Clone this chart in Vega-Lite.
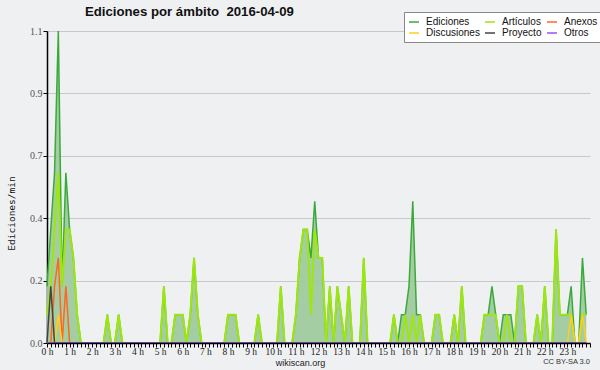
{
"$schema": "https://vega.github.io/schema/vega-lite/v6.json",
"width": 543, "height": 312,
"autosize": "none",
"padding": {"left": 47, "top": 31, "right": 10, "bottom": 27},
"background": "#eff0f2",
"view": {"stroke": null},
"title": {"text": "Ediciones por ámbito\u00a0 2016-04-09", "anchor": "start", "frame": "group", "dx": 38, "dy": 17, "offset": 9, "font": "Liberation Sans", "fontSize": 13.2, "fontWeight": "bold", "color": "#111"},
"datasets": {"serie": [
{"m":0,"Ediciones":0.2,"Artículos":0.1,"Anexos":0,"Discusiones":0,"Proyecto":0,"Otros":0},
{"m":10,"Ediciones":0.4,"Artículos":0.2,"Anexos":0,"Discusiones":0,"Proyecto":0.2,"Otros":0},
{"m":20,"Ediciones":0.6,"Artículos":0.4,"Anexos":0.2,"Discusiones":0,"Proyecto":0,"Otros":0},
{"m":30,"Ediciones":1.1,"Artículos":0.6,"Anexos":0.3,"Discusiones":0.1,"Proyecto":0,"Otros":0},
{"m":40,"Ediciones":0.2,"Artículos":0.2,"Anexos":0,"Discusiones":0,"Proyecto":0,"Otros":0},
{"m":50,"Ediciones":0.6,"Artículos":0.4,"Anexos":0.2,"Discusiones":0,"Proyecto":0,"Otros":0},
{"m":60,"Ediciones":0.4,"Artículos":0.4,"Anexos":0,"Discusiones":0,"Proyecto":0,"Otros":0},
{"m":70,"Ediciones":0.3,"Artículos":0.3,"Anexos":0,"Discusiones":0,"Proyecto":0,"Otros":0},
{"m":80,"Ediciones":0.1,"Artículos":0.1,"Anexos":0,"Discusiones":0,"Proyecto":0,"Otros":0},
{"m":90,"Ediciones":0,"Artículos":0,"Anexos":0,"Discusiones":0,"Proyecto":0,"Otros":0},
{"m":100,"Ediciones":0,"Artículos":0,"Anexos":0,"Discusiones":0,"Proyecto":0,"Otros":0},
{"m":110,"Ediciones":0,"Artículos":0,"Anexos":0,"Discusiones":0,"Proyecto":0,"Otros":0},
{"m":120,"Ediciones":0,"Artículos":0,"Anexos":0,"Discusiones":0,"Proyecto":0,"Otros":0},
{"m":130,"Ediciones":0,"Artículos":0,"Anexos":0,"Discusiones":0,"Proyecto":0,"Otros":0},
{"m":140,"Ediciones":0,"Artículos":0,"Anexos":0,"Discusiones":0,"Proyecto":0,"Otros":0},
{"m":150,"Ediciones":0,"Artículos":0,"Anexos":0,"Discusiones":0,"Proyecto":0,"Otros":0},
{"m":160,"Ediciones":0.1,"Artículos":0.1,"Anexos":0,"Discusiones":0,"Proyecto":0,"Otros":0},
{"m":170,"Ediciones":0,"Artículos":0,"Anexos":0,"Discusiones":0,"Proyecto":0,"Otros":0},
{"m":180,"Ediciones":0,"Artículos":0,"Anexos":0,"Discusiones":0,"Proyecto":0,"Otros":0},
{"m":190,"Ediciones":0.1,"Artículos":0.1,"Anexos":0,"Discusiones":0,"Proyecto":0,"Otros":0},
{"m":200,"Ediciones":0,"Artículos":0,"Anexos":0,"Discusiones":0,"Proyecto":0,"Otros":0},
{"m":210,"Ediciones":0,"Artículos":0,"Anexos":0,"Discusiones":0,"Proyecto":0,"Otros":0},
{"m":220,"Ediciones":0,"Artículos":0,"Anexos":0,"Discusiones":0,"Proyecto":0,"Otros":0},
{"m":230,"Ediciones":0,"Artículos":0,"Anexos":0,"Discusiones":0,"Proyecto":0,"Otros":0},
{"m":240,"Ediciones":0,"Artículos":0,"Anexos":0,"Discusiones":0,"Proyecto":0,"Otros":0},
{"m":250,"Ediciones":0,"Artículos":0,"Anexos":0,"Discusiones":0,"Proyecto":0,"Otros":0},
{"m":260,"Ediciones":0,"Artículos":0,"Anexos":0,"Discusiones":0,"Proyecto":0,"Otros":0},
{"m":270,"Ediciones":0,"Artículos":0,"Anexos":0,"Discusiones":0,"Proyecto":0,"Otros":0},
{"m":280,"Ediciones":0,"Artículos":0,"Anexos":0,"Discusiones":0,"Proyecto":0,"Otros":0},
{"m":290,"Ediciones":0,"Artículos":0,"Anexos":0,"Discusiones":0,"Proyecto":0,"Otros":0},
{"m":300,"Ediciones":0,"Artículos":0,"Anexos":0,"Discusiones":0,"Proyecto":0,"Otros":0},
{"m":310,"Ediciones":0.2,"Artículos":0.2,"Anexos":0,"Discusiones":0,"Proyecto":0,"Otros":0},
{"m":320,"Ediciones":0,"Artículos":0,"Anexos":0,"Discusiones":0,"Proyecto":0,"Otros":0},
{"m":330,"Ediciones":0,"Artículos":0,"Anexos":0,"Discusiones":0,"Proyecto":0,"Otros":0},
{"m":340,"Ediciones":0.1,"Artículos":0.1,"Anexos":0,"Discusiones":0,"Proyecto":0,"Otros":0},
{"m":350,"Ediciones":0.1,"Artículos":0.1,"Anexos":0,"Discusiones":0,"Proyecto":0,"Otros":0},
{"m":360,"Ediciones":0.1,"Artículos":0.1,"Anexos":0,"Discusiones":0,"Proyecto":0,"Otros":0},
{"m":370,"Ediciones":0,"Artículos":0,"Anexos":0,"Discusiones":0,"Proyecto":0,"Otros":0},
{"m":380,"Ediciones":0.1,"Artículos":0.1,"Anexos":0,"Discusiones":0,"Proyecto":0,"Otros":0},
{"m":390,"Ediciones":0.3,"Artículos":0.3,"Anexos":0,"Discusiones":0,"Proyecto":0,"Otros":0},
{"m":400,"Ediciones":0.1,"Artículos":0.1,"Anexos":0,"Discusiones":0,"Proyecto":0,"Otros":0},
{"m":410,"Ediciones":0,"Artículos":0,"Anexos":0,"Discusiones":0,"Proyecto":0,"Otros":0},
{"m":420,"Ediciones":0,"Artículos":0,"Anexos":0,"Discusiones":0,"Proyecto":0,"Otros":0},
{"m":430,"Ediciones":0,"Artículos":0,"Anexos":0,"Discusiones":0,"Proyecto":0,"Otros":0},
{"m":440,"Ediciones":0,"Artículos":0,"Anexos":0,"Discusiones":0,"Proyecto":0,"Otros":0},
{"m":450,"Ediciones":0,"Artículos":0,"Anexos":0,"Discusiones":0,"Proyecto":0,"Otros":0},
{"m":460,"Ediciones":0,"Artículos":0,"Anexos":0,"Discusiones":0,"Proyecto":0,"Otros":0},
{"m":470,"Ediciones":0,"Artículos":0,"Anexos":0,"Discusiones":0,"Proyecto":0,"Otros":0},
{"m":480,"Ediciones":0.1,"Artículos":0.1,"Anexos":0,"Discusiones":0,"Proyecto":0,"Otros":0},
{"m":490,"Ediciones":0.1,"Artículos":0.1,"Anexos":0,"Discusiones":0,"Proyecto":0,"Otros":0},
{"m":500,"Ediciones":0.1,"Artículos":0.1,"Anexos":0,"Discusiones":0,"Proyecto":0,"Otros":0},
{"m":510,"Ediciones":0,"Artículos":0,"Anexos":0,"Discusiones":0,"Proyecto":0,"Otros":0},
{"m":520,"Ediciones":0,"Artículos":0,"Anexos":0,"Discusiones":0,"Proyecto":0,"Otros":0},
{"m":530,"Ediciones":0,"Artículos":0,"Anexos":0,"Discusiones":0,"Proyecto":0,"Otros":0},
{"m":540,"Ediciones":0,"Artículos":0,"Anexos":0,"Discusiones":0,"Proyecto":0,"Otros":0},
{"m":550,"Ediciones":0,"Artículos":0,"Anexos":0,"Discusiones":0,"Proyecto":0,"Otros":0},
{"m":560,"Ediciones":0.1,"Artículos":0.1,"Anexos":0,"Discusiones":0,"Proyecto":0,"Otros":0},
{"m":570,"Ediciones":0,"Artículos":0,"Anexos":0,"Discusiones":0,"Proyecto":0,"Otros":0},
{"m":580,"Ediciones":0,"Artículos":0,"Anexos":0,"Discusiones":0,"Proyecto":0,"Otros":0},
{"m":590,"Ediciones":0,"Artículos":0,"Anexos":0,"Discusiones":0,"Proyecto":0,"Otros":0},
{"m":600,"Ediciones":0,"Artículos":0,"Anexos":0,"Discusiones":0,"Proyecto":0,"Otros":0},
{"m":610,"Ediciones":0,"Artículos":0,"Anexos":0,"Discusiones":0,"Proyecto":0,"Otros":0},
{"m":620,"Ediciones":0.2,"Artículos":0.2,"Anexos":0,"Discusiones":0,"Proyecto":0,"Otros":0},
{"m":630,"Ediciones":0,"Artículos":0,"Anexos":0,"Discusiones":0,"Proyecto":0,"Otros":0},
{"m":640,"Ediciones":0,"Artículos":0,"Anexos":0,"Discusiones":0,"Proyecto":0,"Otros":0},
{"m":650,"Ediciones":0,"Artículos":0,"Anexos":0,"Discusiones":0,"Proyecto":0,"Otros":0},
{"m":660,"Ediciones":0.1,"Artículos":0.1,"Anexos":0,"Discusiones":0,"Proyecto":0,"Otros":0},
{"m":670,"Ediciones":0.3,"Artículos":0.3,"Anexos":0,"Discusiones":0,"Proyecto":0,"Otros":0},
{"m":680,"Ediciones":0.4,"Artículos":0.4,"Anexos":0,"Discusiones":0,"Proyecto":0,"Otros":0},
{"m":690,"Ediciones":0.4,"Artículos":0.4,"Anexos":0,"Discusiones":0,"Proyecto":0,"Otros":0},
{"m":700,"Ediciones":0.3,"Artículos":0.1,"Anexos":0,"Discusiones":0,"Proyecto":0,"Otros":0},
{"m":710,"Ediciones":0.5,"Artículos":0.4,"Anexos":0,"Discusiones":0,"Proyecto":0,"Otros":0},
{"m":720,"Ediciones":0.3,"Artículos":0.3,"Anexos":0,"Discusiones":0,"Proyecto":0,"Otros":0},
{"m":730,"Ediciones":0.3,"Artículos":0.3,"Anexos":0,"Discusiones":0,"Proyecto":0,"Otros":0},
{"m":740,"Ediciones":0,"Artículos":0,"Anexos":0,"Discusiones":0,"Proyecto":0,"Otros":0},
{"m":750,"Ediciones":0.2,"Artículos":0.2,"Anexos":0,"Discusiones":0,"Proyecto":0,"Otros":0},
{"m":760,"Ediciones":0,"Artículos":0,"Anexos":0,"Discusiones":0,"Proyecto":0,"Otros":0},
{"m":770,"Ediciones":0.2,"Artículos":0.2,"Anexos":0,"Discusiones":0,"Proyecto":0,"Otros":0},
{"m":780,"Ediciones":0.1,"Artículos":0.1,"Anexos":0,"Discusiones":0,"Proyecto":0,"Otros":0},
{"m":790,"Ediciones":0,"Artículos":0,"Anexos":0,"Discusiones":0,"Proyecto":0,"Otros":0},
{"m":800,"Ediciones":0.2,"Artículos":0.2,"Anexos":0,"Discusiones":0,"Proyecto":0,"Otros":0},
{"m":810,"Ediciones":0,"Artículos":0,"Anexos":0,"Discusiones":0,"Proyecto":0,"Otros":0},
{"m":820,"Ediciones":0,"Artículos":0,"Anexos":0,"Discusiones":0,"Proyecto":0,"Otros":0},
{"m":830,"Ediciones":0,"Artículos":0,"Anexos":0,"Discusiones":0,"Proyecto":0,"Otros":0},
{"m":840,"Ediciones":0.3,"Artículos":0.3,"Anexos":0,"Discusiones":0,"Proyecto":0,"Otros":0},
{"m":850,"Ediciones":0,"Artículos":0,"Anexos":0,"Discusiones":0,"Proyecto":0,"Otros":0},
{"m":860,"Ediciones":0,"Artículos":0,"Anexos":0,"Discusiones":0,"Proyecto":0,"Otros":0},
{"m":870,"Ediciones":0,"Artículos":0,"Anexos":0,"Discusiones":0,"Proyecto":0,"Otros":0},
{"m":880,"Ediciones":0,"Artículos":0,"Anexos":0,"Discusiones":0,"Proyecto":0,"Otros":0},
{"m":890,"Ediciones":0,"Artículos":0,"Anexos":0,"Discusiones":0,"Proyecto":0,"Otros":0},
{"m":900,"Ediciones":0,"Artículos":0,"Anexos":0,"Discusiones":0,"Proyecto":0,"Otros":0},
{"m":910,"Ediciones":0,"Artículos":0,"Anexos":0,"Discusiones":0,"Proyecto":0,"Otros":0},
{"m":920,"Ediciones":0.1,"Artículos":0.1,"Anexos":0,"Discusiones":0,"Proyecto":0,"Otros":0},
{"m":930,"Ediciones":0,"Artículos":0,"Anexos":0,"Discusiones":0,"Proyecto":0,"Otros":0},
{"m":940,"Ediciones":0.1,"Artículos":0,"Anexos":0,"Discusiones":0,"Proyecto":0,"Otros":0},
{"m":950,"Ediciones":0.1,"Artículos":0.1,"Anexos":0,"Discusiones":0,"Proyecto":0,"Otros":0},
{"m":960,"Ediciones":0.2,"Artículos":0,"Anexos":0,"Discusiones":0,"Proyecto":0,"Otros":0},
{"m":970,"Ediciones":0.5,"Artículos":0.1,"Anexos":0,"Discusiones":0,"Proyecto":0,"Otros":0},
{"m":980,"Ediciones":0.1,"Artículos":0,"Anexos":0,"Discusiones":0,"Proyecto":0,"Otros":0},
{"m":990,"Ediciones":0.1,"Artículos":0.1,"Anexos":0,"Discusiones":0,"Proyecto":0,"Otros":0},
{"m":1000,"Ediciones":0,"Artículos":0,"Anexos":0,"Discusiones":0,"Proyecto":0,"Otros":0},
{"m":1010,"Ediciones":0,"Artículos":0,"Anexos":0,"Discusiones":0,"Proyecto":0,"Otros":0},
{"m":1020,"Ediciones":0,"Artículos":0,"Anexos":0,"Discusiones":0,"Proyecto":0,"Otros":0},
{"m":1030,"Ediciones":0.1,"Artículos":0.1,"Anexos":0,"Discusiones":0,"Proyecto":0,"Otros":0},
{"m":1040,"Ediciones":0.1,"Artículos":0.1,"Anexos":0,"Discusiones":0,"Proyecto":0,"Otros":0},
{"m":1050,"Ediciones":0,"Artículos":0,"Anexos":0,"Discusiones":0,"Proyecto":0,"Otros":0},
{"m":1060,"Ediciones":0,"Artículos":0,"Anexos":0,"Discusiones":0,"Proyecto":0,"Otros":0},
{"m":1070,"Ediciones":0,"Artículos":0,"Anexos":0,"Discusiones":0,"Proyecto":0,"Otros":0},
{"m":1080,"Ediciones":0.1,"Artículos":0.1,"Anexos":0,"Discusiones":0,"Proyecto":0,"Otros":0},
{"m":1090,"Ediciones":0,"Artículos":0,"Anexos":0,"Discusiones":0,"Proyecto":0,"Otros":0},
{"m":1100,"Ediciones":0.2,"Artículos":0.2,"Anexos":0,"Discusiones":0,"Proyecto":0,"Otros":0},
{"m":1110,"Ediciones":0,"Artículos":0,"Anexos":0,"Discusiones":0,"Proyecto":0,"Otros":0},
{"m":1120,"Ediciones":0,"Artículos":0,"Anexos":0,"Discusiones":0,"Proyecto":0,"Otros":0},
{"m":1130,"Ediciones":0,"Artículos":0,"Anexos":0,"Discusiones":0,"Proyecto":0,"Otros":0},
{"m":1140,"Ediciones":0,"Artículos":0,"Anexos":0,"Discusiones":0,"Proyecto":0,"Otros":0},
{"m":1150,"Ediciones":0,"Artículos":0,"Anexos":0,"Discusiones":0,"Proyecto":0,"Otros":0},
{"m":1160,"Ediciones":0.1,"Artículos":0.1,"Anexos":0,"Discusiones":0,"Proyecto":0,"Otros":0},
{"m":1170,"Ediciones":0.1,"Artículos":0.1,"Anexos":0,"Discusiones":0,"Proyecto":0,"Otros":0},
{"m":1180,"Ediciones":0.2,"Artículos":0.1,"Anexos":0,"Discusiones":0,"Proyecto":0,"Otros":0},
{"m":1190,"Ediciones":0.1,"Artículos":0.1,"Anexos":0,"Discusiones":0,"Proyecto":0,"Otros":0},
{"m":1200,"Ediciones":0,"Artículos":0,"Anexos":0,"Discusiones":0,"Proyecto":0,"Otros":0},
{"m":1210,"Ediciones":0.1,"Artículos":0,"Anexos":0,"Discusiones":0,"Proyecto":0,"Otros":0},
{"m":1220,"Ediciones":0.1,"Artículos":0.1,"Anexos":0,"Discusiones":0,"Proyecto":0,"Otros":0},
{"m":1230,"Ediciones":0.1,"Artículos":0,"Anexos":0,"Discusiones":0,"Proyecto":0,"Otros":0},
{"m":1240,"Ediciones":0,"Artículos":0,"Anexos":0,"Discusiones":0,"Proyecto":0,"Otros":0},
{"m":1250,"Ediciones":0.2,"Artículos":0.2,"Anexos":0,"Discusiones":0,"Proyecto":0,"Otros":0},
{"m":1260,"Ediciones":0.2,"Artículos":0.2,"Anexos":0,"Discusiones":0,"Proyecto":0,"Otros":0},
{"m":1270,"Ediciones":0,"Artículos":0,"Anexos":0,"Discusiones":0,"Proyecto":0,"Otros":0},
{"m":1280,"Ediciones":0,"Artículos":0,"Anexos":0,"Discusiones":0,"Proyecto":0,"Otros":0},
{"m":1290,"Ediciones":0,"Artículos":0,"Anexos":0,"Discusiones":0,"Proyecto":0,"Otros":0},
{"m":1300,"Ediciones":0.1,"Artículos":0.1,"Anexos":0,"Discusiones":0,"Proyecto":0,"Otros":0},
{"m":1310,"Ediciones":0,"Artículos":0,"Anexos":0,"Discusiones":0,"Proyecto":0,"Otros":0},
{"m":1320,"Ediciones":0.2,"Artículos":0.2,"Anexos":0,"Discusiones":0,"Proyecto":0,"Otros":0},
{"m":1330,"Ediciones":0,"Artículos":0,"Anexos":0,"Discusiones":0,"Proyecto":0,"Otros":0},
{"m":1340,"Ediciones":0,"Artículos":0,"Anexos":0,"Discusiones":0,"Proyecto":0,"Otros":0},
{"m":1350,"Ediciones":0.4,"Artículos":0.4,"Anexos":0,"Discusiones":0,"Proyecto":0,"Otros":0},
{"m":1360,"Ediciones":0.1,"Artículos":0.1,"Anexos":0,"Discusiones":0,"Proyecto":0,"Otros":0},
{"m":1370,"Ediciones":0.1,"Artículos":0.1,"Anexos":0,"Discusiones":0,"Proyecto":0,"Otros":0},
{"m":1380,"Ediciones":0.1,"Artículos":0.1,"Anexos":0,"Discusiones":0,"Proyecto":0,"Otros":0},
{"m":1390,"Ediciones":0.2,"Artículos":0.1,"Anexos":0,"Discusiones":0.1,"Proyecto":0,"Otros":0},
{"m":1400,"Ediciones":0,"Artículos":0,"Anexos":0,"Discusiones":0,"Proyecto":0,"Otros":0},
{"m":1410,"Ediciones":0,"Artículos":0,"Anexos":0,"Discusiones":0,"Proyecto":0,"Otros":0},
{"m":1420,"Ediciones":0.3,"Artículos":0.1,"Anexos":0,"Discusiones":0.1,"Proyecto":0,"Otros":0},
{"m":1430,"Ediciones":0.1,"Artículos":0.1,"Anexos":0,"Discusiones":0,"Proyecto":0,"Otros":0}
],
"pie": [{"t": "CC BY-SA 3.0", "pos": 1440, "base": 0}]},
"layer": [
  {"data": {"name": "serie"},
   "mark": {"type": "area", "color": "#9fca9f", "opacity": 0.95},
   "encoding": {
     "x": {"field": "m", "type": "quantitative", "title": "wikiscan.org",
       "scale": {"domain": [0, 1440], "nice": false, "zero": false},
       "axis": {"tickCount": 144, "labelExpr": "datum.value % 60 == 0 && datum.value < 1440 ? (datum.value / 60) + ' h' : ''",
         "labelOverlap": false, "labelFlush": false, "labelPadding": -1, "tickSize": 4, "tickColor": "#000", "tickWidth": 1,
         "domainColor": "#000", "domainWidth": 1.5, "grid": false, "zindex": 1,
         "labelFont": "Liberation Sans Narrow", "labelFontSize": 9.5, "labelColor": "#222",
         "titleFont": "Liberation Sans", "titleFontSize": 9, "titleFontWeight": "normal", "titleColor": "#222",
         "titleX": 253, "titleY": 22, "titleBaseline": "alphabetic", "titleAlign": "center"}},
     "y": {"field": "Ediciones", "type": "quantitative", "title": "Ediciones/min",
     "scale": {"domain": [0, 1.1], "nice": false},
     "axis": {"values": [0,0.055,0.11,0.165,0.22,0.275,0.33,0.385,0.44,0.495,0.55,0.605,0.66,0.715,0.77,0.825,0.88,0.935,0.99,1.045,1.1],
       "labelExpr": "abs(datum.value / 0.22 - round(datum.value / 0.22)) < 0.01 ? format(datum.value, '.1f') : ''",
       "gridOpacity": {"condition": {"test": "abs(datum.value / 0.22 - round(datum.value / 0.22)) < 0.01", "value": 1}, "value": 0},
       "gridColor": "#c8c8c8", "gridWidth": 1, "grid": true,
       "labelOverlap": false, "labelFlush": false, "labelPadding": 1, "tickSize": 4, "tickColor": "#000",
       "domainColor": "#000", "domainWidth": 1.5,
       "labelFont": "Liberation Sans Narrow", "labelFontSize": 10, "labelColor": "#555",
       "titleFont": "DejaVu Sans Mono", "titleFontSize": 9.5, "titleFontWeight": "normal", "titleColor": "#111",
       "titleX": -33, "titleY": 182, "titleAngle": -90, "titleAlign": "center", "titleBaseline": "alphabetic"}}}},
  {"data": {"name": "serie"},
   "transform": [{"fold": ["Ediciones"], "as": ["serie", "v"]}],
   "mark": {"type": "line", "strokeWidth": 1.5},
   "encoding": {
     "x": {"field": "m", "type": "quantitative", "title": "wikiscan.org"},
     "y": {"field": "v", "type": "quantitative", "title": "Ediciones/min"},
     "color": {"field": "serie", "type": "nominal",
       "scale": {"domain": ["Ediciones", "Artículos", "Anexos", "Discusiones", "Proyecto", "Otros"],
                 "range": ["#3aaa3a", "#9de610", "#ff6622", "#ffcc22", "#444444", "#9955ee"]},
       "legend": {"orient": "none", "legendX": 357, "legendY": -19, "direction": "horizontal", "columns": 3,
         "symbolType": "stroke", "symbolStrokeWidth": 1.5, "symbolSize": 100, "labelFont": "Liberation Sans",
         "labelFontSize": 10, "labelColor": "#111", "fillColor": "#ffffff", "strokeColor": "#888888", "padding": 4,
         "rowPadding": 0, "columnPadding": 2, "labelOffset": 6, "title": null, "labelLimit": 0}}}},
  {"data": {"name": "serie"},
   "transform": [{"fold": ["Artículos"], "as": ["serie", "v"]}],
   "mark": {"type": "line", "strokeWidth": 2},
   "encoding": {
     "x": {"field": "m", "type": "quantitative", "title": "wikiscan.org"},
     "y": {"field": "v", "type": "quantitative", "title": "Ediciones/min"},
     "color": {"field": "serie", "type": "nominal"}}},
  {"data": {"name": "serie"},
   "transform": [{"fold": ["Anexos", "Discusiones", "Proyecto", "Otros"], "as": ["serie", "v"]}],
   "mark": {"type": "line", "strokeWidth": 1.5},
   "encoding": {
     "x": {"field": "m", "type": "quantitative", "title": "wikiscan.org"},
     "y": {"field": "v", "type": "quantitative", "title": "Ediciones/min"},
     "color": {"field": "serie", "type": "nominal"}}},
  {"data": {"name": "pie"},
   "mark": {"type": "text", "align": "right", "baseline": "alphabetic", "dy": 21, "font": "Liberation Sans", "fontSize": 7.5, "color": "#333"},
   "encoding": {
     "x": {"field": "pos", "type": "quantitative", "title": "wikiscan.org"},
     "y": {"field": "base", "type": "quantitative", "title": "Ediciones/min"},
     "text": {"field": "t"}}}
]
}
